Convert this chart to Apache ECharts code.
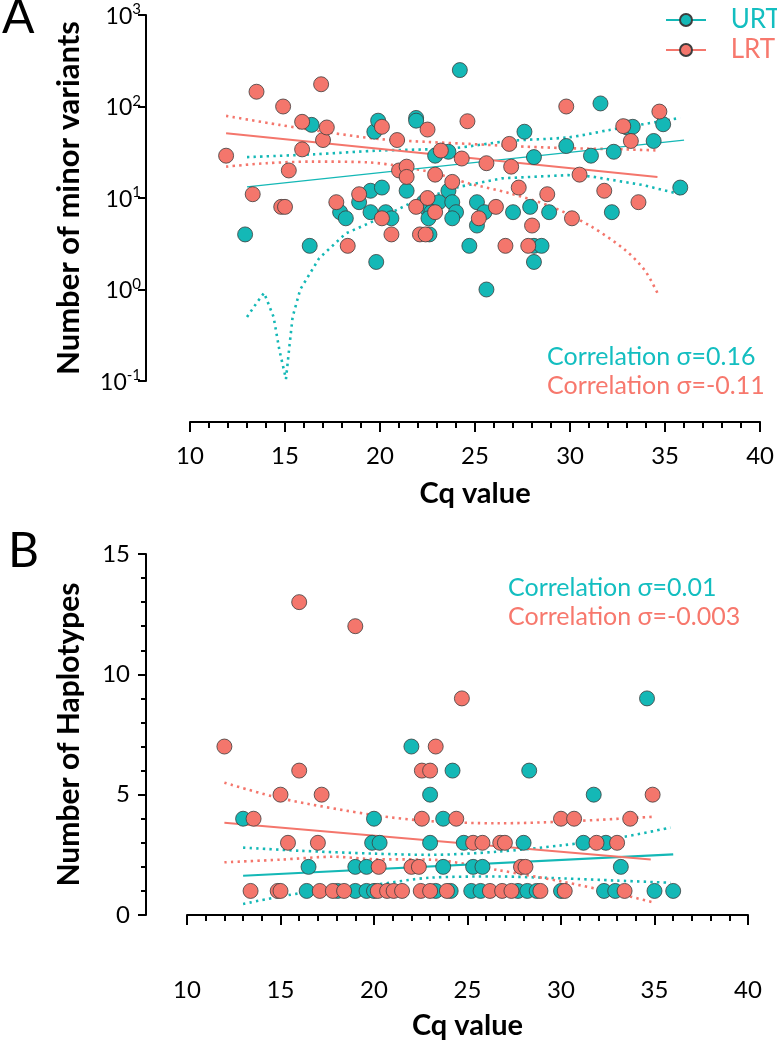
<!DOCTYPE html>
<html><head><meta charset="utf-8">
<script src="https://cdn.jsdelivr.net/npm/echarts@6/dist/echarts.min.js"></script>
<style>html,body{margin:0;padding:0;background:#fff}#c{width:777px;height:1043px}</style>
</head><body><div id="c"></div><script>
// ---------- Panel A data: [Cq, number of minor variants] ----------
const urtA = [[12.9,4],[16.3,3],[16.4,63],[17.9,7],[18.2,6],[18.9,9],[19.5,12],[19.5,7],[19.8,2],[19.7,53],[19.9,70],[20.1,13],[20.3,7],[20.6,6],[21.4,12],[21.9,75],[21.9,70],[22.3,9],[22.6,9],[23.1,9],[22.5,7.5],[22.7,7],[22.55,6],[22.6,4],[22.9,29],[23.6,32],[23.6,12],[23.8,9],[24.0,7],[23.8,6],[24.2,250],[24.7,3],[25.1,9],[25.5,7],[25.1,5],[25.6,1],[27.0,7],[27.6,53],[27.9,8],[28.1,28],[28.1,3],[28.5,3],[28.1,2],[28.9,7],[29.8,37],[31.1,29],[31.6,108],[32.2,7],[32.3,32],[33.0,59],[33.3,60],[34.4,42],[34.9,64],[35.8,13]];
const lrtA = [[11.9,29],[13.3,11],[13.5,145],[14.8,8],[15.0,8],[14.9,100],[15.2,20],[15.9,68],[15.9,34],[16.9,175],[17.0,43],[17.2,59],[17.7,9],[18.3,3],[18.9,11],[20.1,60],[20.1,6],[20.6,4],[20.9,43],[21.0,20],[21.4,22],[21.4,17],[21.9,8],[22.1,4],[22.4,4],[22.5,56],[22.5,10],[22.9,18],[22.9,7],[23.2,33],[23.8,15],[24.3,27],[24.6,69],[25.2,6],[25.6,24],[26.1,8],[26.6,3],[26.8,39],[26.9,22],[27.3,13],[27.8,3],[28.0,5],[28.8,11],[29.8,100],[30.1,6],[30.5,18],[31.8,12],[32.8,61],[33.2,42],[33.6,9],[34.7,88]];
const urtFitA = [[13,13.2],[36,43]];
const lrtFitA = [[11.9,51],[34.6,17]];
const urtUpA = [[13,28],[16.5,30],[20,33],[23.8,35],[26.8,42],[29.9,46],[32,55],[35.8,75]];
const urtLoA = [[13,0.5],[13.5,0.71],[13.9,0.92],[14.4,0.5],[14.7,0.22],[15.05,0.105],[15.25,0.26],[15.4,0.5],[15.8,1.0],[16.8,2.2],[18.2,4.1],[20,6],[21.7,9],[24.2,13.3],[26.4,16.4],[29.9,17.8],[31.1,17.2],[33.8,13.9],[35.8,11]];
const lrtUpA = [[11.9,79],[14.7,63],[17.3,52],[20,44],[22.5,41],[24.7,39],[26.8,37],[29.9,35],[32.9,34],[34.7,33]];
const lrtLoA = [[11.9,22],[14,24],[16.5,25],[19.4,24.5],[21.2,22],[22.9,18.6],[24.7,14.4],[26.8,11.3],[29.05,8],[31.1,4.9],[32.9,2.7],[33.95,1.6],[34.65,0.87]];

// ---------- Panel B data: [Cq, number of haplotypes] ----------
const urtB = [[22.0,7],[24.2,6],[28.3,6],[23.0,5],[31.75,5],[13.0,4],[20.0,4],[23.7,4],[19.9,3],[20.3,3],[23.0,3],[24.8,3],[28.0,3],[31.2,3],[32.4,3],[16.5,2],[19.0,2],[19.6,2],[23.7,2],[25.3,2],[25.8,2],[33.2,2],[16.4,1],[18.05,1],[19.0,1],[19.6,1],[20.0,1],[23.3,1],[24.1,1],[25.2,1],[25.7,1],[27.7,1],[28.2,1],[28.7,1],[30.0,1],[32.3,1],[32.9,1],[35.0,1],[36.0,1],[34.6,9]];
const lrtB = [[16.0,13],[19.0,12],[24.7,9],[12.0,7],[23.3,7],[16.0,6],[22.56,6],[23.0,6],[15.0,5],[17.2,5],[34.9,5],[13.56,4],[22.56,4],[24.4,4],[30.0,4],[30.7,4],[33.7,4],[15.4,3],[17.0,3],[25.3,3],[25.8,3],[26.75,3],[27.0,3],[31.9,3],[33.0,3],[20.25,2],[22.0,2],[22.4,2],[27.86,2],[28.1,2],[13.4,1],[14.85,1],[15.0,1],[17.1,1],[17.8,1],[18.4,1],[20.2,1],[20.7,1],[21.05,1],[21.5,1],[22.5,1],[23.0,1],[23.9,1],[26.2,1],[26.85,1],[27.35,1],[28.9,1],[30.2,1],[33.4,1]];
const urtFitB = [[13,1.63],[36,2.52]];
const lrtFitB = [[12,3.83],[34.8,2.31]];
const urtUpB = [[13,2.8],[16,2.67],[20,2.55],[23,2.5],[26.6,2.63],[30.1,2.9],[33,3.2],[35.85,3.63]];
const urtLoB = [[13,0.46],[16,0.9],[20,1.25],[23,1.55],[26.6,1.6],[30.1,1.52],[33,1.43],[35.85,1.34]];
const lrtUpB = [[12,5.5],[15,4.85],[20,4.15],[23,3.9],[26.6,3.81],[30.1,3.88],[34.9,4.08]];
const lrtLoB = [[12,2.19],[15,2.3],[17.8,2.42],[20,2.32],[23,2.3],[26.6,1.87],[30.1,1.38],[33,0.9],[34.9,0.53]];

const corrA = ['Correlation σ=0.16','Correlation σ=-0.11'];
const corrB = ['Correlation σ=0.01','Correlation σ=-0.003'];

const TEAL='#14B8B6', SALMON='#F4766C', TEAL_T='#13BEC0', SALMON_T='#F7786D';
const FONT = 'Lato, "Open Sans", "DejaVu Sans", sans-serif';

function band(data, color, xi, smooth){
  return {type:'line', data, xAxisIndex:xi, yAxisIndex:xi, symbol:'none', showSymbol:false, smooth:smooth, silent:true, z:1,
    lineStyle:{color, width:2.6, type:[2.4,4.2], cap:'butt'}};
}
function fit(data, color, xi, name, w){
  return {type:'line', name, data, xAxisIndex:xi, yAxisIndex:xi, symbol:'circle', symbolSize:14, showSymbol:false, silent:true, z:2,
    lineStyle:{color, width:w}, itemStyle:{color, borderColor:'#3c3c3c', borderWidth:0.8}};
}
function pts(data, color, xi, name, z){
  return {type:'scatter', name, data, xAxisIndex:xi, yAxisIndex:xi, symbol:'circle', symbolSize:15, z,
    itemStyle:{color, borderColor:'#3c3c3c', borderWidth:0.8, opacity:1}};
}
const xAxisCommon = {type:'value', min:10, max:40, interval:5, offset:41,
  axisLine:{show:true, lineStyle:{color:'#000', width:2}},
  axisTick:{show:true, length:10, lineStyle:{color:'#000', width:2}},
  minorTick:{show:true, splitNumber:5, length:6, lineStyle:{color:'#000', width:2}},
  splitLine:{show:false},
  axisLabel:{fontSize:24, color:'#000', fontFamily:FONT, margin:22},
  name:'Cq value', nameLocation:'middle', nameGap:57,
  nameTextStyle:{fontSize:29, fontWeight:'bold', color:'#000', fontFamily:FONT}};

const option = {
  animation:false,
  backgroundColor:'#fff',
  textStyle:{fontFamily:FONT},
  grid:[{left:190, top:15, width:573, height:366},{left:187, top:554, width:561, height:361}],
  xAxis:[Object.assign({gridIndex:0}, xAxisCommon), Object.assign({gridIndex:1}, xAxisCommon, {nameGap:55})],
  yAxis:[
    {gridIndex:0, type:'log', logBase:10, min:0.1, max:1000, offset:44,
     axisLine:{show:true, lineStyle:{color:'#000', width:2}},
     axisTick:{show:true, length:8, lineStyle:{color:'#000', width:2}},
     minorTick:{show:false}, splitLine:{show:false},
     axisLabel:{margin:5, color:'#000', fontFamily:FONT,
       formatter:function(v){const e=Math.round(Math.log10(v)); return '{b|10}{s|'+e+'}';},
       rich:{b:{fontSize:23, lineHeight:26, color:'#000', fontFamily:FONT, verticalAlign:'bottom'},
             s:{fontSize:15, lineHeight:26, color:'#000', fontFamily:FONT, verticalAlign:'top'}}},
     name:'Number of minor variants', nameLocation:'middle', nameGap:62, nameRotate:90,
     nameTextStyle:{fontSize:31, fontWeight:'bold', color:'#000', fontFamily:FONT}},
    {gridIndex:1, type:'value', min:0, max:15, interval:5, offset:41,
     axisLine:{show:true, lineStyle:{color:'#000', width:2}},
     axisTick:{show:true, length:8, lineStyle:{color:'#000', width:2}},
     minorTick:{show:true, splitNumber:5, length:5, lineStyle:{color:'#000', width:2}},
     splitLine:{show:false},
     axisLabel:{fontSize:24, color:'#000', fontFamily:FONT, margin:16},
     name:'Number of Haplotypes', nameLocation:'middle', nameGap:62, nameRotate:90,
     nameTextStyle:{fontSize:30, fontWeight:'bold', color:'#000', fontFamily:FONT}}
  ],
  legend:{orient:'vertical', left:660, top:2, itemWidth:40, itemHeight:15, itemGap:4,
    data:[{name:'URT', textStyle:{color:TEAL_T}},{name:'LRT', textStyle:{color:SALMON_T}}],
    formatter:function(n){return '\u2002 '+n;},
    textStyle:{fontSize:26, fontFamily:FONT}, selectedMode:false},
  graphic:[
    {type:'text', left:2, top:-6, style:{text:'A', fontSize:48, fontFamily:FONT, fill:'#000'}},
    {type:'text', left:8, top:528, style:{text:'B', fontSize:48, fontFamily:FONT, fill:'#000'}},
    {type:'text', left:547, top:344, style:{text:corrA[0], fontSize:25, fontFamily:FONT, fill:TEAL_T}},
    {type:'text', left:547, top:373, style:{text:corrA[1], fontSize:25, fontFamily:FONT, fill:SALMON_T}},
    {type:'text', left:508, top:575, style:{text:corrB[0], fontSize:25, fontFamily:FONT, fill:TEAL_T}},
    {type:'text', left:508, top:604, style:{text:corrB[1], fontSize:25, fontFamily:FONT, fill:SALMON_T}}
  ],
  series:[
    band(urtUpA, TEAL, 0, 0.3), band(urtLoA, TEAL, 0, false), band(lrtUpA, SALMON, 0, 0.3), band(lrtLoA, SALMON, 0, 0.3),
    fit(urtFitA, TEAL, 0, 'URT', 1.3), fit(lrtFitA, SALMON, 0, 'LRT', 2),
    pts(urtA, TEAL, 0, 'URT points', 3), pts(lrtA, SALMON, 0, 'LRT points', 4),
    band(urtUpB, TEAL, 1, 0.3), band(urtLoB, TEAL, 1, 0.3), band(lrtUpB, SALMON, 1, 0.3), band(lrtLoB, SALMON, 1, 0.3),
    fit(urtFitB, TEAL, 1, 'URT fit B', 2.2), fit(lrtFitB, SALMON, 1, 'LRT fit B', 2),
    pts(urtB, TEAL, 1, 'URT points B', 3), pts(lrtB, SALMON, 1, 'LRT points B', 4)
  ]
};
const chart = echarts.init(document.getElementById('c'), null, {renderer:'canvas'});
chart.setOption(option);
</script></body></html>
